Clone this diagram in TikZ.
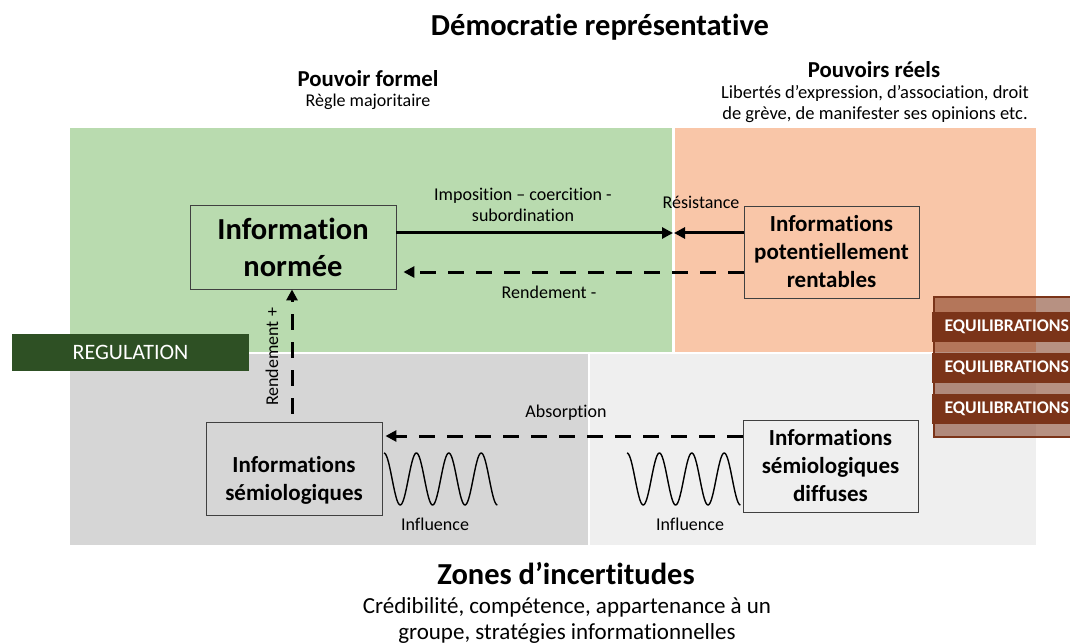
\documentclass[tikz,border=0pt]{standalone}
\usepackage{fontspec}
\setmainfont[Ligatures={NoCommon}]{Carlito}
\usetikzlibrary{arrows.meta}
\definecolor{zgreen}{HTML}{B9DBAF}
\definecolor{zorange}{HTML}{F9C6A8}
\definecolor{zgray}{HTML}{D6D6D6}
\definecolor{zlight}{HTML}{EFEFEF}
\definecolor{regcol}{HTML}{2E5024}
\definecolor{brown}{HTML}{7B3419}
\definecolor{boxline}{HTML}{404040}
\begin{document}
\begin{tikzpicture}[x=1pt,y=-1pt,
  infobox/.style={draw=boxline,line width=0.9pt,align=center,inner sep=0pt,font=\fontsize{23}{28}\selectfont\bfseries},
  bigtitle/.style={inner sep=0pt,font=\fontsize{30.5}{36}\selectfont\bfseries},
  subtitle/.style={inner sep=0pt,font=\fontsize{22.8}{27}\selectfont\bfseries},
  small/.style={inner sep=0pt,align=center,font=\fontsize{18}{21}\selectfont},
  solidarrow/.style={line width=3pt,-{Triangle[length=11pt,width=11pt]}},
  dasharrow/.style={line width=3pt,dash pattern=on 16pt off 12pt,-{Triangle[length=11pt,width=11pt]}},
  wave/.style={line width=1.4pt},
  equil/.style={fill=brown,text=white,minimum width=138pt,minimum height=30pt,inner sep=0pt,font=\fontsize{17.8}{21}\selectfont\bfseries}
]
\useasboundingbox (0,0) rectangle (1070,644);
\clip (0,0) rectangle (1070,644);
\fill[white] (0,0) rectangle (1070,644);
% zones
\fill[zgreen] (70,128) rectangle (672,352);
\fill[zorange] (675,128) rectangle (1036,352);
\fill[zgray] (70,354) rectangle (588,545);
\fill[zlight] (590,354) rectangle (1036,545);
% titles
\node[bigtitle] (title) at (600,27) {Démocratie représentative};
\node[subtitle] (formel) at (368,79) {Pouvoir formel};
\node[small] (regle) at (368,102) {Règle majoritaire};
\node[subtitle] (reels) at (874,70) {Pouvoirs réels};
\node[small,font=\fontsize{18.5}{21.5}\selectfont] (libertes) at (875,104) {Libertés d’expression, d’association, droit\\de grève, de manifester ses opinions etc.};
\node[bigtitle] (zones) at (566,574) {Zones d’incertitudes};
\node[small,font=\fontsize{23}{26}\selectfont] (credib) at (567,620) {Crédibilité, compétence, appartenance à un\\groupe, stratégies informationnelles};
% regulation
\node[fill=regcol,text=white,minimum width=237pt,minimum height=37pt,inner sep=0pt,font=\fontsize{22}{26}\selectfont] (reg) at (130.5,352.5) {REGULATION};
% boxes
\node[infobox,minimum width=206pt,minimum height=84pt,font=\fontsize{30.5}{37}\selectfont\bfseries] (norm) at (293,247) {Information\\normée};
\node[infobox,minimum width=175pt,minimum height=92pt] (pot) at (831.5,252) {Informations\\potentiellement\\rentables};
\node[infobox,minimum width=176pt,minimum height=93pt] (semio) at (294,468.5) {\strut\\[-8pt]Informations\\sémiologiques};
\node[infobox,minimum width=175pt,minimum height=92pt] (diff) at (830.5,466) {Informations\\sémiologiques\\diffuses};
% connectors
\coordinate (meet) at (673,233);
\draw[solidarrow] (norm.east |- meet) -- (meet);
\draw[solidarrow] (pot.west |- meet) -- ([xshift=1pt]meet);
\draw[dasharrow] (pot.west |- 0,272) -- ([xshift=7pt]norm.east |- 0,272);
\draw[dasharrow] (semio.north -| 292,0) ++(0,-8) -- (norm.south -| 292,0);
\draw[dasharrow] (diff.west |- 0,436) -- ([xshift=3pt]semio.east |- 0,436);
% labels
\node[small] (impos) at (523,205) {Imposition – coercition -\\subordination};
\node[small] (resist) at (701,202) {Résistance};
\node[small] (rendm) at (549,292) {Rendement -};
\node[small,rotate=90] (rendp) at (272,357) {Rendement +};
\node[small] (absorp) at (566,413) {Absorption};
% waves
\draw[wave] plot[domain=0:3.5,samples=140,smooth] ({384+32.4*\x},{479-26*cos(360*\x)});
\draw[wave] plot[domain=0:3.5,samples=140,smooth] ({627+32.4*\x},{479-26*cos(360*\x)});
\node[small] (infl1) at (435,524) {Influence};
\node[small] (infl2) at (690,524) {Influence};
% equilibrations
\fill[brown,opacity=0.54] (934,297) rectangle (1071,437);
\draw[brown,line width=1.5pt] (1072,297) -- (934,297) -- (934,437) -- (1072,437);
\node[equil,anchor=west] (eq1) at (932,326.5) {\hspace{11pt}EQUILIBRATIONS\hspace*{\fill}};
\node[equil,anchor=west] (eq2) at (932,367.5) {\hspace{11pt}EQUILIBRATIONS\hspace*{\fill}};
\node[equil,anchor=west] (eq3) at (932,409) {\hspace{11pt}EQUILIBRATIONS\hspace*{\fill}};
\end{tikzpicture}
\end{document}
